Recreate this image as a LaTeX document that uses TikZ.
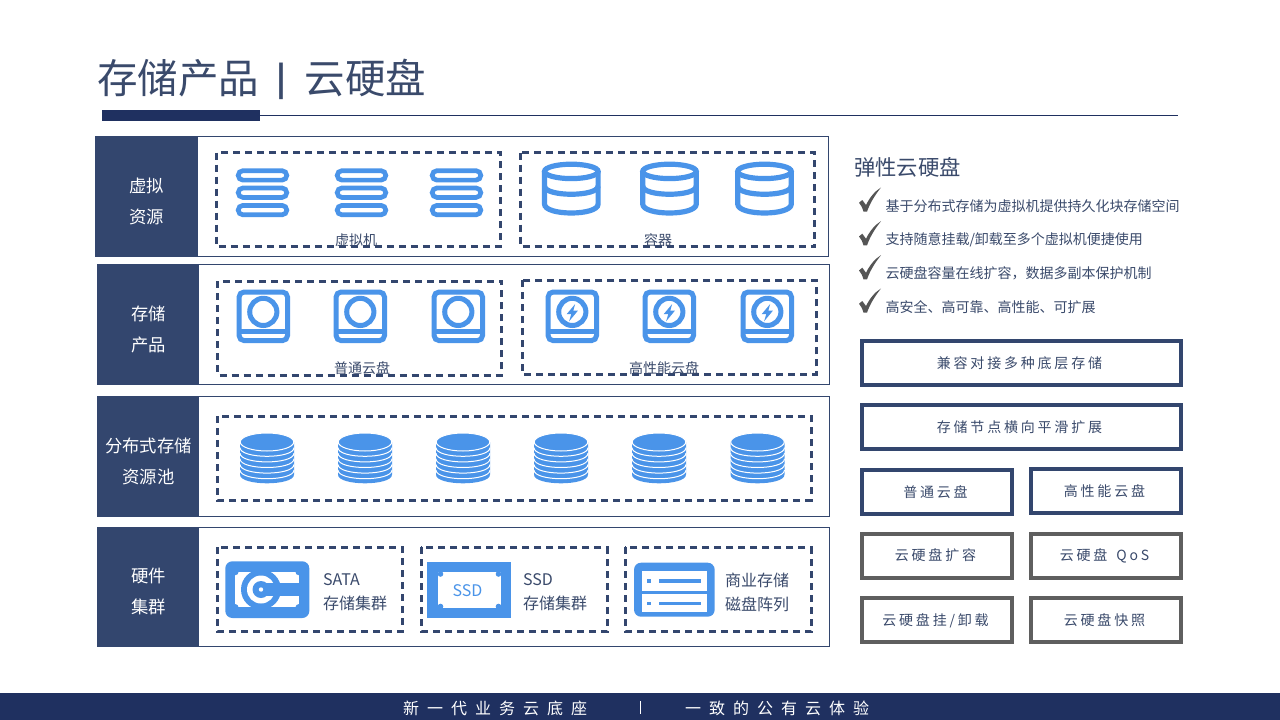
\documentclass[tikz,border=0pt]{standalone}
\usepackage{fontspec}
\setmainfont{Noto Sans CJK SC}
\newfontfamily\spacedf[LetterSpace=20]{Noto Sans CJK SC}
\newfontfamily\footf[LetterSpace=50]{Noto Sans CJK SC}
\definecolor{navy}{HTML}{33466E}
\definecolor{deep}{HTML}{1F3060}
\definecolor{ink}{HTML}{3A4A6B}
\definecolor{sky}{HTML}{4A94E9}
\definecolor{slate}{HTML}{5F5F5F}
\newcommand{\stl}{\rule[-.3em]{0pt}{1.46em}}
\tikzset{
  x=1pt,y=-1pt,
  txt/.style={inner sep=0pt,text=ink,execute at begin node=\stl},
  rowbody/.style={draw=navy,line width=1pt,fill=white},
  rowlabel/.style={inner sep=0pt,text=white,align=center,font=\fontsize{17.33}{31}\selectfont},
  dashbox/.style={draw=navy,line width=3pt,dash pattern=on 7pt off 5pt},
  smalllabel/.style={txt,font=\fontsize{14}{14}\selectfont},
  hwlabel/.style={inner sep=0pt,text=ink,align=left,font=\fontsize{16}{24}\selectfont},
  bullet/.style={txt,anchor=west,font=\fontsize{14}{14}\selectfont},
  featurebox/.style={draw=navy,line width=4pt,fill=white,inner sep=0pt},
  greybox/.style={draw=slate,line width=4pt,fill=white,inner sep=0pt},
  boxtext/.style={txt,font=\spacedf\fontsize{14}{14}\selectfont},
  foottext/.style={inner sep=0pt,text=white,anchor=west,font=\footf\fontsize{16}{16}\selectfont,execute at begin node=\stl},
  iconline/.style={draw=sky,line width=5pt},
  vmicon/.pic={
    \foreach \yy in {-17.3,0,17.4}
      \draw[draw=sky,line width=4.7pt,rounded corners=4.7pt] (-24.3,\yy-4.7) rectangle (24.3,\yy+4.7);
  },
  cylicon/.pic={
    \draw[iconline,line width=5.2pt] (0,-17.6) ellipse [x radius=26.8,y radius=7.2];
    \draw[iconline,line width=5.2pt] (-26.8,-17.6) -- (-26.8,15) .. controls (-26.8,27) and (26.8,27) .. (26.8,15) -- (26.8,-17.6);
    \draw[iconline,line width=5.2pt] (-26.8,-3) .. controls (-26.8,8) and (26.8,8) .. (26.8,-3);
  },
  diskicon/.pic={
    \draw[iconline,rounded corners=5pt] (-24.2,-24.3) rectangle (24.2,24.3);
    \draw[iconline] (0,-4.4) circle [radius=13.6];
    \draw[iconline] (-24.2,15.2) -- (24.2,15.2);
  },
  fasticon/.pic={
    \draw[iconline,rounded corners=5pt] (-24.2,-24.3) rectangle (24.2,24.3);
    \draw[iconline] (0,-4.4) circle [radius=13.6];
    \draw[iconline] (-24.2,15.2) -- (24.2,15.2);
    \fill[sky] (2.8,-12.2) -- (-5.6,-2.2) -- (-1,-2.2) -- (-3.2,5) -- (5.6,-5.6) -- (1,-5.6) -- cycle;
  },
  stackicon/.pic={
    \fill[sky] (-27,-16) -- (-27,16.6) .. controls (-27,28.2) and (27,28.2) .. (27,16.6) -- (27,-16) -- cycle;
    \foreach \k in {1,...,5}
      \draw[white,line width=1pt] (-27,-16+\k*5.6) .. controls (-27,-4.4+\k*5.6) and (27,-4.4+\k*5.6) .. (27,-16+\k*5.6);
    \fill[sky,draw=white,line width=1pt] (0,-16) ellipse [x radius=26.8,y radius=9];
  },
  tickicon/.pic={
    \fill[slate!90!black] (-11,2.7) -- (-7.7,0) -- (-4,5) .. controls (0,-3) and (5,-9) .. (11,-12.5) .. controls (5,-5) and (0,3) .. (-3,11.7) -- (-6.5,11.7) .. controls (-7.5,8) and (-9,5) .. (-11,2.7) -- cycle;
  },
}
\begin{document}
\begin{tikzpicture}
\useasboundingbox (0,0) rectangle (1280,720);
\fill[white] (0,0) rectangle (1280,720);

% title
\node[txt,anchor=west,font=\fontsize{40.5}{40.5}\selectfont] (title) at (97,76.5) {存储产品\hspace{17.5pt}\raisebox{3pt}{\fontsize{32}{32}\selectfont\bfseries |}\hspace{18pt}云硬盘};
\draw[deep,line width=1pt] (102,115.5) -- (1178,115.5);
\fill[deep] (102,110) rectangle (260,121);

% row frames
\draw[rowbody] (95.5,136.5) rectangle (828.5,256.5);
\fill[navy] (95.5,136) rectangle (198,257);
\draw[rowbody] (97.5,264.5) rectangle (829.5,384.5);
\fill[navy] (97,264) rectangle (199,385);
\draw[rowbody] (97.5,396.5) rectangle (829.5,516.5);
\fill[navy] (97,396) rectangle (199,517);
\draw[rowbody] (97.5,527.5) rectangle (829.5,646.5);
\fill[navy] (97,527) rectangle (199,647);

\node[rowlabel] (r1) at (146.5,200.5) {\stl 虚拟\\\stl 资源};
\node[rowlabel] (r2) at (148.5,328.5) {\stl 存储\\\stl 产品};
\node[rowlabel] (r3) at (148.5,460.5) {\stl 分布式存储\\\stl 资源池};
\node[rowlabel] (r4) at (148.5,590.5) {\stl 硬件\\\stl 集群};

% dashed groups
\draw[dashbox] (216.7,152.7) rectangle (500.6,246.5);
\draw[dashbox] (520.5,152.7) rectangle (814.7,246.5);
\draw[dashbox] (217.7,281.3) rectangle (501.6,375.3);
\draw[dashbox] (522.3,280.3) rectangle (816.3,374.3);
\draw[dashbox] (217.3,416.3) rectangle (811,500.3);
\draw[dashbox] (217.3,547.3) rectangle (402.5,631.3);
\draw[dashbox] (421,547.3) rectangle (607.2,631.3);
\draw[dashbox] (625,547.3) rectangle (811.2,631.3);

% row 1 icons
\foreach \x in {262.5,361.5,456.5} \pic at (\x,192.7) {vmicon};
\foreach \x in {571.3,669.5,764.5} \pic at (\x,189) {cylicon};
\node[smalllabel] (l1) at (356,239) {虚拟机};
\node[smalllabel] (l2) at (658,239) {容器};

% row 2 icons
\foreach \x in {263.3,360.3,458.3} \pic at (\x,316.3) {diskicon};
\foreach \x in {572.3,669.3,767.3} \pic at (\x,316.3) {fasticon};
\node[smalllabel] (l3) at (362,367) {普通云盘};
\node[smalllabel] (l4) at (664,367) {高性能云盘};

% row 3 icons
\foreach \x in {267,365,463,561,659,757.5} \pic at (\x,458) {stackicon};

% row 4: SATA
\fill[sky,rounded corners=7pt] (225.3,561.3) rectangle (309.3,618);
\fill[white] (235.3,572) rectangle (298.7,607.3);
\foreach \cx/\cy in {235.3/572,298.7/572,235.3/607.3,298.7/607.3}
  \fill[sky] (\cx,\cy) circle [radius=3.2];
\fill[sky] (261,589.5) circle [radius=20];
\fill[white] (261,589.5) circle [radius=14];
\fill[sky] (261,583.3) rectangle (300,595.7);
\fill[sky] (261,589.5) circle [radius=8.5];
\fill[white] (261,589.5) circle [radius=2.2];
\node[hwlabel] (h1) at (355,591) {\stl SATA\\\stl 存储集群};

% row 4: SSD
\fill[sky] (427.3,561.7) rectangle (511.3,618.3);
\fill[white] (438.3,572.3) rectangle (500.7,608.3);
\foreach \cx in {440.5,498.5}
  \foreach \cy in {574,606.5}
    \fill[sky] (\cx,\cy) circle [radius=2.8];
\node[txt,text=sky,font=\fontsize{16}{16}\selectfont] (ssd) at (467.5,590) {SSD};
\node[hwlabel] (h2) at (555,591) {\stl SSD\\\stl 存储集群};

% row 4: array
\fill[sky,rounded corners=7pt] (634,562.7) rectangle (714.7,616.7);
\fill[white] (642,570.7) rectangle (706.7,591);
\fill[white] (642,594) rectangle (706.7,612.3);
\fill[sky] (647,579) rectangle (650.7,582.7);
\fill[sky] (659,579) rectangle (701,582.7);
\fill[sky] (647,601.7) rectangle (650.7,605);
\fill[sky] (659,601.7) rectangle (701,605);
\node[hwlabel] (h3) at (757,592) {\stl 商业存储\\\stl 磁盘阵列};

% right column
\node[txt,anchor=west,font=\fontsize{21.33}{21.33}\selectfont] (rt) at (854,166.5) {弹性云硬盘};
\pic at (870,200) {tickicon};
\pic at (870,233.7) {tickicon};
\pic at (870,267.7) {tickicon};
\pic at (870,301) {tickicon};
\node[bullet] (b1) at (885.3,205) {基于分布式存储为虚拟机提供持久化块存储空间};
\node[bullet] (b2) at (885.3,238.5) {支持随意挂载/卸载至多个虚拟机便捷使用};
\node[bullet] (b3) at (885.3,272.5) {云硬盘容量在线扩容，数据多副本保护机制};
\node[bullet] (b4) at (885.3,306) {高安全、高可靠、高性能、可扩展};

\draw[featurebox] (862,341) rectangle (1181,385);
\draw[featurebox] (862,405) rectangle (1181,449);
\draw[featurebox] (862,470) rectangle (1012,514);
\draw[featurebox] (1031,469) rectangle (1181,513);
\draw[greybox] (862,534) rectangle (1012,578);
\draw[greybox] (1031,534) rectangle (1181,578);
\draw[greybox] (862,598) rectangle (1012,642);
\draw[greybox] (1031,598) rectangle (1181,642);

\node[boxtext] (t1) at (1019.5,362.3) {兼容对接多种底层存储};
\node[boxtext] (t2) at (1019.5,426.3) {存储节点横向平滑扩展};
\node[boxtext] (t3) at (935.5,491.3) {普通云盘};
\node[boxtext] (t4) at (1104.5,490.3) {高性能云盘};
\node[boxtext] (t5) at (935.5,554.3) {云硬盘扩容};
\node[boxtext] (t6) at (1104.5,554.3) {云硬盘\hspace{3pt} QoS};
\node[boxtext] (t7) at (935.5,619.3) {云硬盘挂/卸载};
\node[boxtext] (t8) at (1104.5,619.3) {云硬盘快照};

% footer
\fill[deep] (0,693) rectangle (1280,720);
\node[foottext] (f1) at (403,708) {新一代业务云底座};
\draw[white,line width=1pt] (640.5,701) -- (640.5,714);
\node[foottext] (f2) at (685,708) {一致的公有云体验};
\end{tikzpicture}
\end{document}
